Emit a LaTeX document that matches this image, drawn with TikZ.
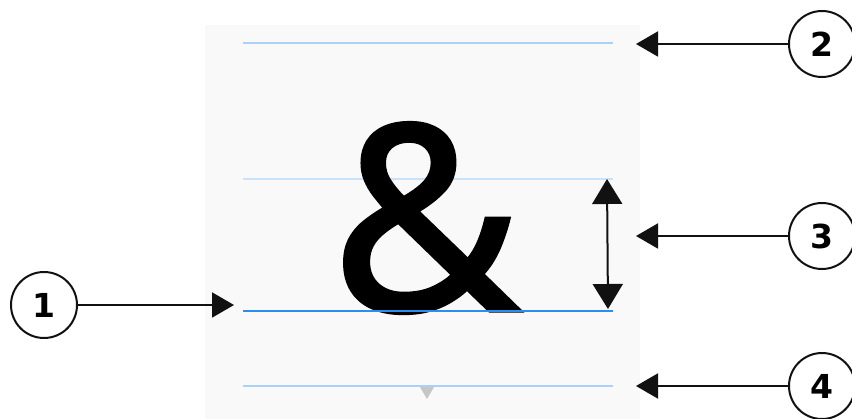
\documentclass[tikz,border=0pt]{standalone}
\usepackage{fontspec}
\usetikzlibrary{arrows.meta}
\newfontfamily\numfont{DejaVu Sans}
\newfontfamily\ampfont[FakeBold=1.2]{Noto Sans}
\definecolor{panel}{HTML}{F9F9F9}
\definecolor{guide}{HTML}{A9D1FA}
\definecolor{guidepale}{HTML}{C8E2FC}
\definecolor{baseblue}{HTML}{2E8BF0}
\definecolor{ink}{HTML}{111111}
\begin{document}
\begin{tikzpicture}[x=1pt,y=-1pt,
  numcircle/.style={circle,draw=ink,line width=2pt,minimum size=66pt,inner sep=0pt,font=\numfont\bfseries\fontsize{33}{33}\selectfont},
  pointer/.style={draw=ink,line width=2pt,-{Triangle[length=22pt,width=25pt]}},
  guideline/.style={line width=2pt,color=guide}]
\useasboundingbox (0,0) rectangle (852,419);
\fill[white] (0,0) rectangle (852,419);
\fill[panel] (205,25) rectangle (640,419);
% guide lines
\draw[guideline] (243,43) -- (613,43);
\draw[guideline,color=guidepale] (243,179) -- (613,179);
\draw[guideline] (243,386) -- (613,386);
% glyph
\node[anchor=base,inner sep=0pt,font=\ampfont\fontsize{260}{260}\selectfont] (amp) at (426,311) {\&};
\draw[line width=2.4pt,color=baseblue] (243,311) -- (613,311);
% small marker
\fill[gray!45] (420,387) -- (434,387) -- (427,399) -- cycle;
% double arrow
\coordinate (xtop) at (607,179);
\coordinate (xbot) at (608,309);
\draw[draw=ink,line width=2pt,{Triangle[length=25pt,width=30pt]}-{Triangle[length=25pt,width=30pt]}] (xtop) -- (xbot);
% numbered circles
\node[numcircle] (c1) at (44,305) {1};
\node[numcircle] (c2) at (822,44) {2};
\node[numcircle] (c3) at (822,236) {3};
\node[numcircle] (c4) at (822,386) {4};
\coordinate (t1) at (234,305);
\coordinate (t2) at (636,44);
\coordinate (t3) at (636,236);
\coordinate (t4) at (636,386);
\draw[pointer] (c1) -- (t1);
\draw[pointer] (c2) -- (t2);
\draw[pointer] (c3) -- (t3);
\draw[pointer] (c4) -- (t4);
\end{tikzpicture}
\end{document}
